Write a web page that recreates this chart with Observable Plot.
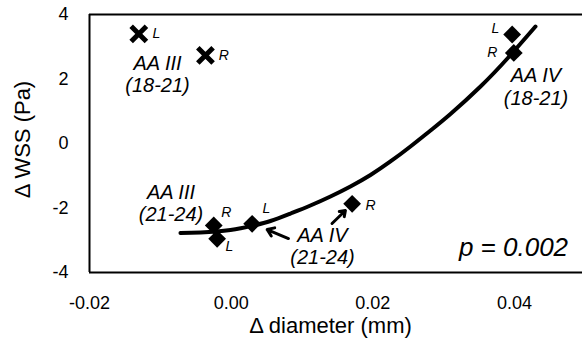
<!DOCTYPE html>
<html><head><meta charset="utf-8">
<script src="https://cdn.jsdelivr.net/npm/d3@7"></script>
<script src="https://cdn.jsdelivr.net/npm/@observablehq/plot@0.6"></script>
<style>
body{margin:0;background:#fff;}
#chart{width:582px;height:350px;overflow:hidden;}
</style>
</head><body><div id="chart"></div>
<script>
// Axis ticks
const xTicks = [-0.02, 0, 0.02, 0.04];
const yTicks = [-4, -2, 0, 2, 4];

// Diamond points (fitted group)
const diamondGroup = ["AA III (21-24)", "AA III (21-24)", "AA IV (21-24)", "AA IV (21-24)", "AA IV (18-21)", "AA IV (18-21)"];
const diamondSide = ["R", "L", "L", "R", "L", "R"];
const diamondX = [-0.00246, -0.00198, 0.00296, 0.01708, 0.03967, 0.0399];
const diamondY = [-2.54, -2.955, -2.49, -1.87, 3.38, 2.81];

// Cross points (AA III 18-21, excluded)
const crossSide = ["L", "R"];
const crossX = [-0.01304, -0.00363];
const crossY = [3.40, 2.73];

// Trend curve
const curveX = [-0.00716, -0.00433, -0.0001, 0.00315, 0.00555, 0.00837, 0.01119, 0.01402, 0.01684, 0.01967, 0.02249, 0.02531, 0.02814, 0.03096, 0.0352, 0.03906, 0.04296];
const curveY = [-2.775, -2.76, -2.682, -2.543, -2.403, -2.171, -1.922, -1.643, -1.333, -0.977, -0.558, -0.093, 0.403, 0.915, 1.767, 2.651, 3.628];

// Annotation texts
const groupText = ["AA III\n(18-21)", "AA IV\n(18-21)", "AA III\n(21-24)", "AA IV\n(21-24)"];
const groupTextX = [-0.0104, 0.04303, -0.0085, 0.01289];
const groupTextY = [2.155, 1.767, -1.845, -3.178];

const sideText = ["L", "R", "R", "L", "L", "R", "L", "R"];
const sideTextX = [-0.01055, -0.00104, -0.00069, -0.00024, 0.00496, 0.01967, 0.03731, 0.03685];
const sideTextY = [3.41, 2.73, -2.13, -3.19, -2.016, -1.92, 3.58, 2.83];

const arrowX1 = [0.00809, 0.01424];
const arrowY1 = [-2.946, -2.481];
const arrowX2 = [0.00508, 0.01613];
const arrowY2 = [-2.667, -2.078];

const pText = "p = 0.002";
const pX = 0.03986, pY = -3.215;

const diamonds = diamondX.map((x, i) => ({x, y: diamondY[i], group: diamondGroup[i], side: diamondSide[i]}));
const crosses = crossX.map((x, i) => ({x, y: crossY[i], side: crossSide[i]}));
const curve = curveX.map((x, i) => ({x, y: curveY[i]}));
const groups = groupText.map((t, i) => ({t, x: groupTextX[i], y: groupTextY[i]}));
const sides = sideText.map((t, i) => ({t, x: sideTextX[i], y: sideTextY[i]}));
const arrows = arrowX1.map((x1, i) => ({x1, y1: arrowY1[i], x2: arrowX2[i], y2: arrowY2[i]}));

const font = "'Liberation Sans', Arial, sans-serif";
const hyphen = s => s.replace(/\u2212/g, "-");

const chart = Plot.plot({
  width: 582,
  height: 350,
  marginLeft: 89,
  marginRight: 0,
  marginTop: 14,
  marginBottom: 78,
  style: {fontFamily: font, color: "#000", background: "#fff"},
  x: {domain: [-0.02, 0.0496]},
  y: {domain: [-4, 4]},
  marks: [
    Plot.axisX(xTicks, {tickSize: 0, tickPadding: 24, tickFormat: d => hyphen(d3.format(".2f")(d)), fontSize: 18, label: null}),
    Plot.axisY(yTicks, {tickSize: 0, tickPadding: 21, tickFormat: d => hyphen(d3.format("d")(d)), fontSize: 18, label: null}),
    Plot.ruleY([4, -4], {stroke: "#000", strokeWidth: 2}),
    Plot.ruleX([-0.02], {stroke: "#000", strokeWidth: 2}),
    Plot.line(curve, {x: "x", y: "y", curve: "natural", stroke: "#000", strokeWidth: 4, strokeLinecap: "round"}),
    Plot.dot(diamonds, {x: "x", y: "y", symbol: "diamond2", r: 8, fill: "#000", stroke: "none"}),
    Plot.dot(crosses, {x: "x", y: "y", symbol: "times", r: 7, stroke: "#000", strokeWidth: 5}),
    Plot.arrow(arrows, {x1: "x1", y1: "y1", x2: "x2", y2: "y2", stroke: "#000", strokeWidth: 3, headLength: 10, headAngle: 70}),
    Plot.text(groups, {x: "x", y: "y", text: "t", fontSize: 20, fontStyle: "italic", lineHeight: 1.12, lineAnchor: "middle", fill: "#000"}),
    Plot.text(sides, {x: "x", y: "y", text: "t", fontSize: 14, fontStyle: "italic", fill: "#000"}),
    Plot.text([pText], {x: () => pX, y: () => pY, text: d => d, fontSize: 26, fontStyle: "italic", fill: "#000"}),
    Plot.text(["Δ diameter (mm)"], {frameAnchor: "bottom", textAnchor: "middle", lineAnchor: "middle", dx: -5.5, dy: 53, fontSize: 22, fill: "#000"}),
    Plot.text(["Δ WSS (Pa)"], {frameAnchor: "left", textAnchor: "middle", lineAnchor: "middle", dx: -66.5, dy: -4, rotate: -90, fontSize: 22, fill: "#000"})
  ]
});
document.getElementById("chart").appendChild(chart);
</script>
</body></html>
